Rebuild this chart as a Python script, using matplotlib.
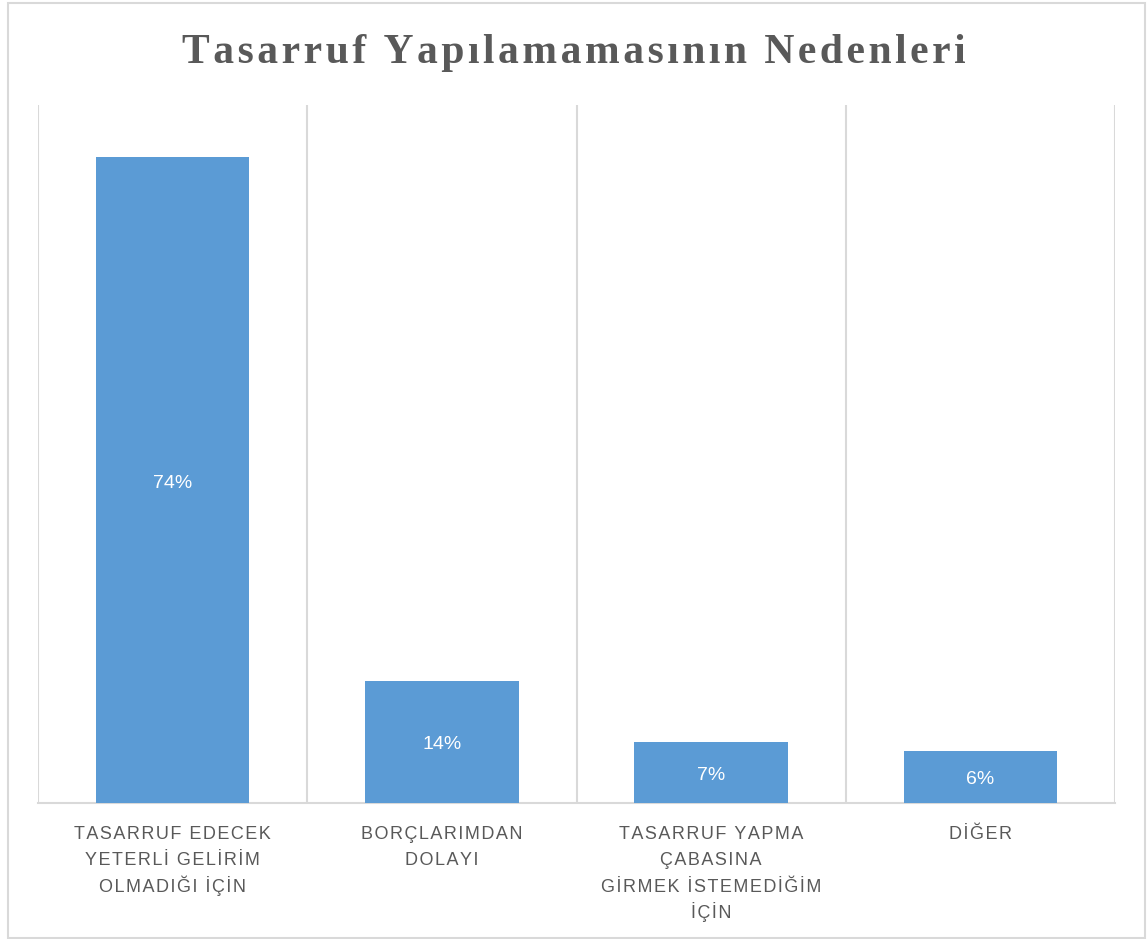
import matplotlib.pyplot as plt
import matplotlib.transforms as mtransforms
from matplotlib.patches import Rectangle

# Veriler
kategoriler = [
    "TASARRUF EDECEK\nYETERLİ GELİRİM\nOLMADIĞI İÇİN",
    "BORÇLARIMDAN\nDOLAYI",
    "TASARRUF YAPMA\nÇABASINA\nGİRMEK İSTEMEDİĞİM\nİÇİN",
    "DİĞER",
]
oranlar = [0.74, 0.14, 0.07, 0.06]
etiketler = ["74%", "14%", "7%", "6%"]
baslik = "Tasarruf Yapılamamasının Nedenleri"

bar_renk = "#5B9BD5"
yazi_renk = "#595959"
cizgi_renk = "#D9D9D9"


def aralikli(metin, bosluk="\u200a"):
    # harf araligi icin harflerin arasina ince bosluk koy
    return bosluk.join(metin)


fig = plt.figure(figsize=(11.48, 9.39), dpi=100)
ax = fig.add_axes([38 / 1148, 1 - 803 / 939, (1115 - 38) / 1148, (803 - 105) / 939])

x = list(range(len(kategoriler)))
bars = ax.bar(x, oranlar, width=0.57, color=bar_renk, zorder=3)

ax.set_xlim(-0.5, len(kategoriler) - 0.5)
ax.set_ylim(0, 0.8)

# Kategori ayirici cizgiler
for sinir in [i - 0.5 for i in range(len(kategoriler) + 1)]:
    ax.axvline(sinir, color=cizgi_renk, linewidth=1.5, zorder=1)

for s in ["top", "left", "right"]:
    ax.spines[s].set_visible(False)
ax.spines["bottom"].set_color(cizgi_renk)
ax.spines["bottom"].set_linewidth(1.5)
ax.set_yticks([])
ax.set_xticks([])

# Kategori etiketleri (satir satir, esit satir araligi)
karma = mtransforms.blended_transform_factory(ax.transData, ax.transAxes)
for xi, kat in zip(x, kategoriler):
    for j, satir in enumerate(kat.split("\n")):
        tr = karma + mtransforms.ScaledTranslation(0, -(36 + 26.3 * j) / 100, fig.dpi_scale_trans)
        ax.text(xi, 0, aralikli(satir), transform=tr, ha="center", va="baseline",
                fontsize=13, color=yazi_renk, family=["Liberation Sans", "DejaVu Sans"])

# Deger etiketleri
kaydir = ax.transData + mtransforms.ScaledTranslation(0, -3 / 100, fig.dpi_scale_trans)
for b, e in zip(bars, etiketler):
    ax.text(b.get_x() + b.get_width() / 2, b.get_height() / 2, e, transform=kaydir,
            ha="center", va="center", color="white", fontsize=14,
            family="Liberation Sans", zorder=4)

# Baslik
fig.text(0.5, 1 - 63 / 939, aralikli(baslik),
         ha="center", va="baseline", fontsize=30, fontweight="bold",
         family=["Liberation Serif", "DejaVu Serif"], color=yazi_renk)

# Dis cerceve
fig.patches.append(Rectangle((8 / 1148, 1 - 938 / 939), (1145 - 8) / 1148, (938 - 3) / 939,
                             transform=fig.transFigure, fill=False,
                             edgecolor=cizgi_renk, linewidth=1.5))

fig.savefig("out.png", dpi=100)
